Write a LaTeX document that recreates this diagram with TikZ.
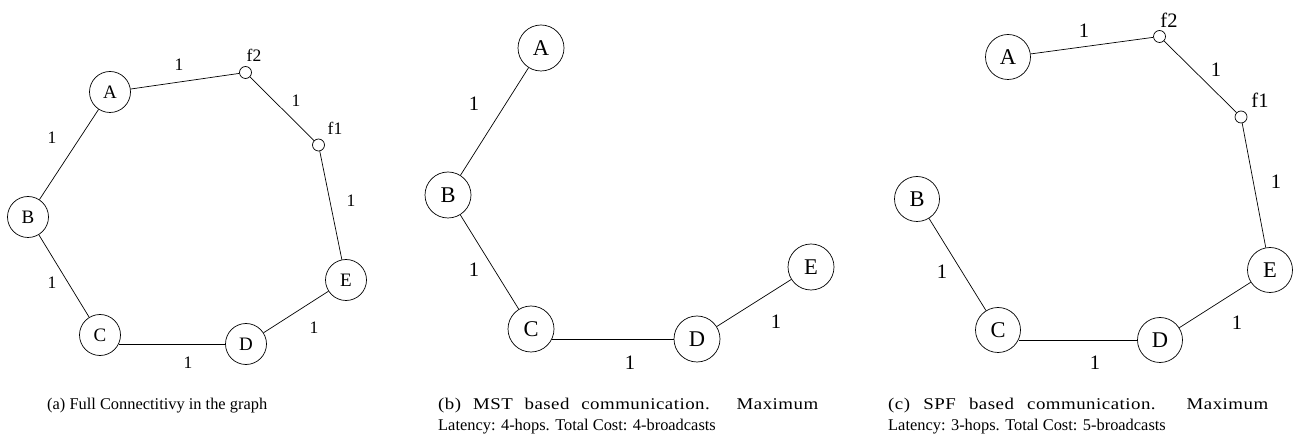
\documentclass[tikz,border=0pt]{standalone}
\usepackage{fontspec}
\setmainfont{Liberation Serif}
\newcommand\gsmall{\fontsize{17.5}{21}\selectfont}
\newcommand\glarge{\fontsize{20.5}{24}\selectfont}
\newcommand\vsmall{\fontsize{19}{22}\selectfont}
\newcommand\vlarge{\fontsize{22.5}{26}\selectfont}
\newcommand\capfont{\fontsize{16.4}{21}\selectfont}
\newcommand\spread[1]{{\addfontfeature{FakeStretch=1.15,LetterSpace=3}#1}}
\tikzset{
  vtx/.style={circle, draw, line width=0.7pt, minimum size=#1, inner sep=0pt},
  relay/.style={circle, draw, line width=0.7pt, minimum size=12pt, inner sep=0pt},
  wt/.style={inner sep=0pt},
  link/.style={line width=0.7pt},
  subcap/.style={anchor=north west, inner sep=0pt, text width=380pt, align=justify, font=\capfont}
}
\begin{document}
\begin{tikzpicture}[x=1pt,y=-1pt]
\useasboundingbox (0,0) rectangle (1293,443);

% (a) full connectivity
\begin{scope}[every node/.append style={font=\gsmall}]
  \begin{scope}[every node/.append style={font=\vsmall}]
    \node[vtx=41pt] (aA) at (110,92) {A};
    \node[vtx=41pt] (aB) at (28,217) {B};
    \node[vtx=41pt] (aC) at (100,335) {C};
    \node[vtx=41pt] (aD) at (246,344) {D};
    \node[vtx=41pt] (aE) at (346,280) {E};
  \end{scope}
  \node[relay] (af2) at (245.5,72.5) {};
  \node[relay] (af1) at (318.5,145) {};
  \node[wt] (af2l) at (254,55) {f2};
  \node[wt] (af1l) at (335,128) {f1};
  \draw[link] (aA) -- (af2) -- (af1) -- (aE) -- (aD);
  \draw[link] (aA) -- (aB) -- (aC);
  \draw[link] (aC.-26 |- aD.west) -- (aD.west);
  \node[wt] (aw1) at (179,65) {1};
  \node[wt] (aw2) at (296,101) {1};
  \node[wt] (aw3) at (351,201) {1};
  \node[wt] (aw4) at (52,138) {1};
  \node[wt] (aw5) at (52,283) {1};
  \node[wt] (aw6) at (188,363) {1};
  \node[wt] (aw7) at (314,328) {1};
\end{scope}

% (b) minimum spanning tree
\begin{scope}[every node/.append style={font=\glarge}]
  \begin{scope}[every node/.append style={font=\vlarge}]
    \node[vtx=46pt] (bA) at (541,48) {A};
    \node[vtx=46pt] (bB) at (448,195) {B};
    \node[vtx=46pt] (bC) at (531,329) {C};
    \node[vtx=46pt] (bD) at (697,339) {D};
    \node[vtx=46pt] (bE) at (811,267) {E};
  \end{scope}
  \draw[link] (bA) -- (bB) -- (bC);
  \draw[link] (bC.-26 |- bD.west) -- (bD.west);
  \draw[link] (bD) -- (bE);
  \node[wt] (bw1) at (474,104) {1};
  \node[wt] (bw2) at (474,270) {1};
  \node[wt] (bw3) at (630,363) {1};
  \node[wt] (bw4) at (776,322) {1};
\end{scope}

% (c) shortest path first
\begin{scope}[every node/.append style={font=\glarge}]
  \begin{scope}[every node/.append style={font=\vlarge}]
    \node[vtx=45pt] (cA) at (1008,57) {A};
    \node[vtx=45pt] (cB) at (917,199) {B};
    \node[vtx=45pt] (cC) at (998,330) {C};
    \node[vtx=45pt] (cD) at (1160,340) {D};
    \node[vtx=45pt] (cE) at (1270,270) {E};
  \end{scope}
  \node[relay] (cf2) at (1159.5,36.5) {};
  \node[relay] (cf1) at (1241,117) {};
  \node[wt] (cf2l) at (1169,20) {f2};
  \node[wt] (cf1l) at (1260,100) {f1};
  \draw[link] (cA) -- (cf2) -- (cf1) -- (cE) -- (cD);
  \draw[link] (cB) -- (cC);
  \draw[link] (cC.-26 |- cD.west) -- (cD.west);
  \node[wt] (cw1) at (1084,31) {1};
  \node[wt] (cw2) at (1216,70) {1};
  \node[wt] (cw3) at (1276,182) {1};
  \node[wt] (cw4) at (942,272) {1};
  \node[wt] (cw5) at (1095,363) {1};
  \node[wt] (cw6) at (1237,323) {1};
\end{scope}

% sub-captions
\node[anchor=north west, inner sep=0pt, font=\capfont] (capa) at (47,398) {(a) Full Connectitivy in the graph};
\node[subcap] (capb) at (438,398) {\spread{(b) MST based communication. Maximum}\linebreak Latency: 4-hops. Total Cost: 4-broadcasts};
\node[subcap] (capc) at (888,398) {\spread{(c) SPF based communication. Maximum}\linebreak Latency: 3-hops. Total Cost: 5-broadcasts};
\end{tikzpicture}
\end{document}
